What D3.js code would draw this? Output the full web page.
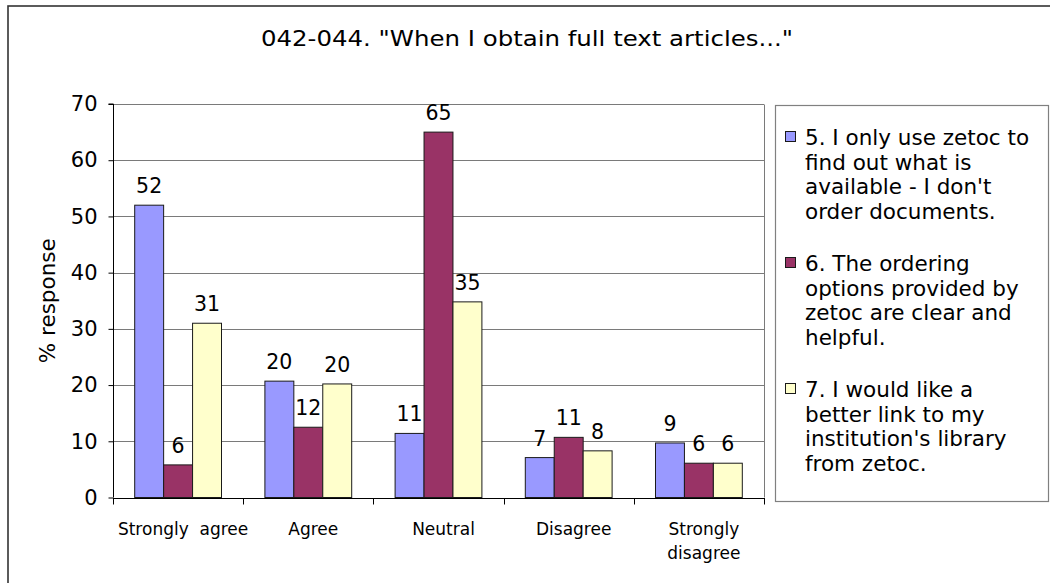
<!DOCTYPE html>
<html>
<head>
<meta charset="utf-8">
<script src="https://cdn.jsdelivr.net/npm/d3@7"></script>
<style>
  html, body { margin: 0; padding: 0; background: #fff; }
  svg { display: block; }
  text { font-family: "DejaVu Sans", Verdana, sans-serif; fill: #000; }
</style>
</head>
<body>
<svg id="chart" width="1050" height="583"></svg>
<script>
const titleText = '042-044. "When I obtain full text articles..."';
const yAxisTitle = "% response";
const categories = ["Strongly  agree", "Agree", "Neutral", "Disagree", "Strongly\ndisagree"];
const seriesNames = [
  "5. I only use zetoc to\nfind out what is\navailable - I don't\norder documents.",
  "6. The ordering\noptions provided by\nzetoc are clear and\nhelpful.",
  "7. I would like a\nbetter link to my\ninstitution's library\nfrom zetoc."
];
const seriesColors = ["#9999FF", "#993366", "#FFFFCC"];
const series1 = [52.0, 20.7, 11.4, 7.1, 9.7];
const series2 = [5.8, 12.5, 65.0, 10.7, 6.1];
const series3 = [31.0, 20.2, 34.8, 8.3, 6.1];
const labels1 = ["52", "20", "11", "7", "9"];
const labels2 = ["6", "12", "65", "11", "6"];
const labels3 = ["31", "20", "35", "8", "6"];
const yTicks = [0, 10, 20, 30, 40, 50, 60, 70];

const seriesValues = [series1, series2, series3];
const seriesLabels = [labels1, labels2, labels3];

const svg = d3.select("#chart");
svg.append("rect").attr("width", 1050).attr("height", 583).attr("fill", "#fff");

// outer chart border
svg.append("rect")
  .attr("x", 8).attr("y", 6).attr("width", 1100).attr("height", 700)
  .attr("fill", "none").attr("stroke", "#333").attr("stroke-width", 1.6);

// title
svg.append("text")
  .attr("x", 527).attr("y", 46)
  .attr("text-anchor", "middle")
  .attr("textLength", 532).attr("lengthAdjust", "spacingAndGlyphs")
  .style("font-size", "22px")
  .text(titleText);

const plotL = 113, plotR = 764, plotT = 104, plotB = 497.5;
const x0 = d3.scaleBand().domain(categories).range([plotL, plotR]).padding(0);
const bw = x0.bandwidth();
const barW = bw / 4.5;
const x1 = d3.scaleBand().domain(d3.range(3)).range([0.75 * barW, bw - 0.75 * barW]).padding(0);
const y = d3.scaleLinear().domain([0, 70]).range([plotB, plotT]);

// gridlines
const g = svg.append("g");
g.selectAll("line.grid").data(yTicks.filter(t => t > 0)).join("line")
  .attr("class", "grid")
  .attr("x1", plotL).attr("x2", plotR)
  .attr("y1", d => Math.round(y(d)) + 0.5).attr("y2", d => Math.round(y(d)) + 0.5)
  .attr("stroke", "#7a7a7a").attr("stroke-width", 1);
// plot right border
g.append("line")
  .attr("x1", plotR + 0.5).attr("x2", plotR + 0.5)
  .attr("y1", Math.round(y(70)) + 0.5).attr("y2", plotB)
  .attr("stroke", "#7a7a7a");

// bars
const groups = svg.append("g").selectAll("g.cat").data(categories).join("g")
  .attr("transform", d => `translate(${x0(d)},0)`);
groups.each(function(cat, ci) {
  const gg = d3.select(this);
  seriesValues.forEach((vals, si) => {
    gg.append("rect")
      .attr("x", x1(si))
      .attr("y", y(vals[ci]))
      .attr("width", x1.bandwidth())
      .attr("height", y(0) - y(vals[ci]))
      .attr("fill", seriesColors[si])
      .attr("stroke", "#1a1a1a").attr("stroke-width", 1);
    gg.append("text")
      .attr("x", x1(si) + x1.bandwidth() / 2)
      .attr("y", y(vals[ci]) - 12)
      .attr("text-anchor", "middle")
      .style("font-size", "20.5px")
      .text(seriesLabels[si][ci]);
  });
});

// y axis
const yAxis = d3.axisLeft(y).tickValues(yTicks).tickSize(5).tickPadding(11);
const ya = svg.append("g").attr("transform", `translate(${plotL + 0.5},0)`).call(yAxis);
ya.select(".domain").attr("stroke", "#000").attr("d", `M-5,${y(70)}H0V${plotB}`);
ya.selectAll(".tick line").attr("stroke", "#000");
ya.selectAll(".tick text").style("font-size", "21px")
  .style("font-family", "'DejaVu Sans', Verdana, sans-serif").attr("fill", "#000");

// x axis
const xa = svg.append("g").attr("transform", `translate(0,${Math.round(plotB) + 0.5})`);
xa.append("line").attr("x1", plotL).attr("x2", plotR + 1).attr("stroke", "#000");
const bounds = categories.map(c => x0(c)).concat([plotR]);
xa.selectAll("line.tk").data(bounds).join("line")
  .attr("class", "tk")
  .attr("x1", d => Math.round(d) + 0.5).attr("x2", d => Math.round(d) + 0.5)
  .attr("y1", 0).attr("y2", 6).attr("stroke", "#000");
xa.selectAll("text.cat").data(categories).join("text")
  .attr("class", "cat")
  .attr("text-anchor", "middle")
  .attr("xml:space", "preserve")
  .style("font-size", "17px")
  .each(function(d) {
    const t = d3.select(this);
    d.split("\n").forEach((ln, i) => {
      t.append("tspan")
        .attr("x", x0(d) + bw / 2 + 5)
        .attr("y", 36 + i * 24)
        .text(ln);
    });
  });

// y axis title
svg.append("text")
  .attr("transform", `translate(55,${(plotT + plotB) / 2}) rotate(-90)`)
  .attr("text-anchor", "middle")
  .style("font-size", "21.5px")
  .text(yAxisTitle);

// legend
const lg = svg.append("g");
lg.append("rect")
  .attr("x", 775.5).attr("y", 105.5).attr("width", 273).attr("height", 396)
  .attr("fill", "#fff").attr("stroke", "#808080").attr("stroke-width", 1.2);
seriesNames.forEach((name, si) => {
  const mid = 137 + si * 126;
  lg.append("rect")
    .attr("x", 785.5).attr("y", mid - 5.5).attr("width", 10).attr("height", 10)
    .attr("fill", seriesColors[si]).attr("stroke", "#1a1a1a");
  const t = lg.append("text").style("font-size", "21.5px");
  name.split("\n").forEach((ln, i) => {
    t.append("tspan").attr("x", 805).attr("y", mid + 8 + i * 24.7).text(ln);
  });
});
</script>
</body>
</html>
